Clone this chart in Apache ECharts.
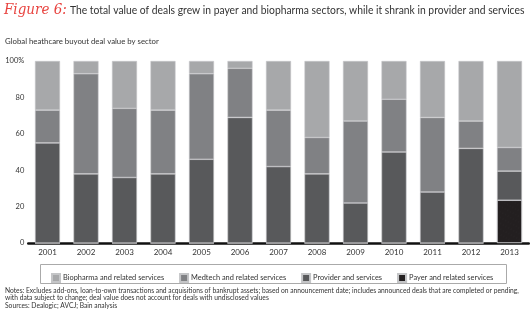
<!DOCTYPE html>
<html><head><meta charset="utf-8">
<script src="https://cdn.jsdelivr.net/npm/echarts@6/dist/echarts.min.js"></script>
<style>html,body{margin:0;padding:0;background:#fff}#c{width:530px;height:321px}</style>
</head><body><div id="c"></div>
<script>
const years = ['2001','2002','2003','2004','2005','2006','2007','2008','2009','2010','2011','2012','2013'];
const payer     = [0,0,0,0,0,0,0,0,0,0,0,0,23.5];
const provider  = [55,38,36,38,46,69,42,38,22,50,28,52,16];
const medtech   = [18,55,38,35,47,27,31,20,45,29,41,15,13];
const biopharma = [27,7,26,27,7,4,27,42,33,21,31,33,47.5];
const yTicks = ['0','20','40','60','80','100%'];

const seriesNames = ['Biopharma and related services','Medtech and related services','Provider and services','Payer and related services'];
const colors = {bio:'#a7a8aa', med:'#808184', prov:'#58595b', payer:'#231f20'};
const font = 'Lato, "Open Sans", sans-serif';

const chart = echarts.init(document.getElementById('c'), null, {renderer:'canvas'});
const mk = (name, data, color, extra) => Object.assign({
  name, type:'bar', stack:'s', data, barWidth:'65%',
  itemStyle:{color, borderColor:'#c4c5c7', borderWidth:0.6},
  emphasis:{disabled:true}
}, extra||{});

chart.setOption({
  animation:false,
  grid:{left:28.25, right:1.25, top:61, bottom:78, containLabel:false},
  xAxis:{type:'category', data:years,
    axisLine:{lineStyle:{color:'#111', width:2.5}},
    axisTick:{show:false},
    axisLabel:{color:'#333', fontSize:8, fontFamily:font, margin:5}},
  yAxis:{type:'value', min:0, max:100, interval:20,
    axisLine:{show:false}, axisTick:{show:false}, splitLine:{show:false},
    axisLabel:{color:'#333', fontSize:7.5, fontFamily:font, margin:4,
      formatter:(v)=>yTicks[v/20]}},
  legend:{left:46, top:268, itemWidth:8, itemHeight:8, itemGap:15, icon:'rect',
    data:seriesNames, selectedMode:false,
    textStyle:{color:'#333', fontSize:7.4, fontFamily:font, padding:[0,0,0,-2]}},
  series:[
    mk(seriesNames[3], payer, colors.payer, {itemStyle:{color:colors.payer, borderColor:'#c4c5c7', borderWidth:0.6,
      decal:{symbol:'circle', symbolSize:0.35, color:'rgba(120,120,120,0.6)', dashArrayX:[1,2], dashArrayY:[2,3], rotation:0.5}}}),
    mk(seriesNames[2], provider, colors.prov),
    mk(seriesNames[1], medtech, colors.med),
    mk(seriesNames[0], biopharma, colors.bio)
  ],
  graphic:[
    {type:'text', x:4, y:3, scaleX:0.9, style:{text:'Figure 6:', fill:'#e8433f', font:'italic 15px "DejaVu Serif", serif'}},
    {type:'text', x:70, y:4, scaleX:0.86, style:{text:'The total value of deals grew in payer and biopharma sectors, while it shrank in provider and services', fill:'#333', font:'12px Lato, "Open Sans", sans-serif'}},
    {type:'text', x:5, y:37, style:{text:'Global heathcare buyout deal value by sector', fill:'#333', font:'7.8px Lato, "Open Sans", sans-serif'}},
    {type:'rect', shape:{x:40.5, y:264.5, width:466, height:19}, style:{fill:'none', stroke:'#aaa', lineWidth:1}, silent:true},
    {type:'text', x:5, y:287, style:{text:'Notes: Excludes add-ons, loan-to-own transactions and acquisitions of bankrupt assets; based on announcement date; includes announced deals that are completed or pending,\nwith data subject to change; deal value does not account for deals with undisclosed values\nSources: Dealogic; AVCJ; Bain analysis', fill:'#333', font:'6.7px Lato, "Open Sans", sans-serif', lineHeight:7.5}}
  ]
});
</script></body></html>
